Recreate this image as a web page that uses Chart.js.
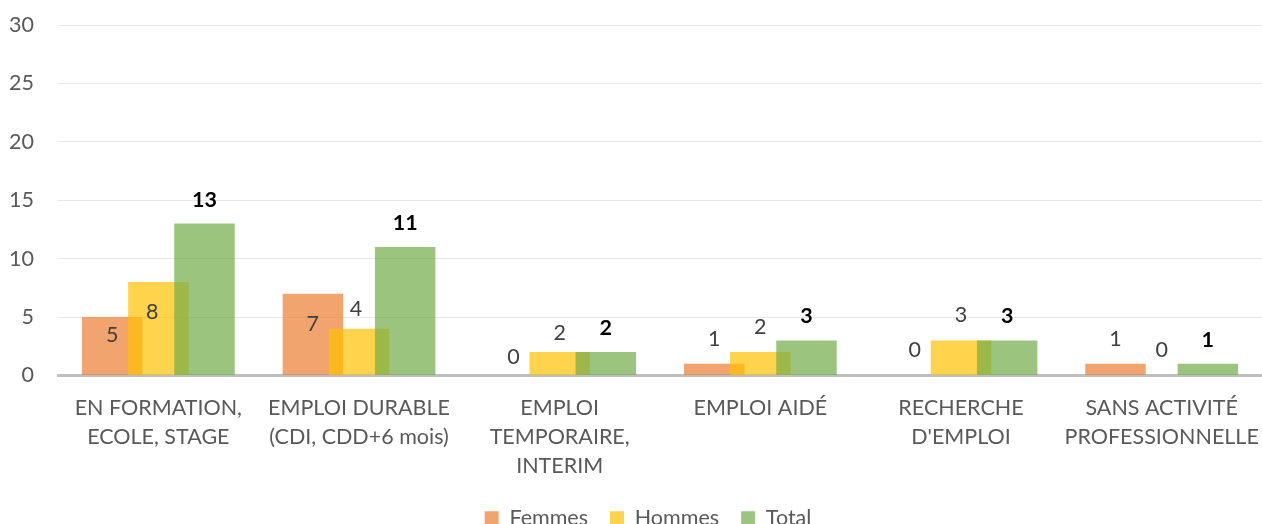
<!DOCTYPE html>
<html>
<head>
<meta charset="utf-8">
<script src="https://cdn.jsdelivr.net/npm/chart.js@4/dist/chart.umd.min.js"></script>
<style>
  html, body { margin: 0; padding: 0; background: #fff; overflow: hidden; }
  #wrap { position: relative; width: 1262px; height: 539px; }
</style>
</head>
<body>
<div id="wrap"><canvas id="c"></canvas></div>
<script>
const categories = [
  ["EN FORMATION,", "ECOLE, STAGE"],
  ["EMPLOI DURABLE", "(CDI, CDD+6 mois)"],
  ["EMPLOI", "TEMPORAIRE,", "INTERIM"],
  ["EMPLOI AIDÉ"],
  ["RECHERCHE", "D'EMPLOI"],
  ["SANS ACTIVITÉ", "PROFESSIONNELLE"]
];
const seriesNames = ["Femmes", "Hommes", "Total"];
const femmes = [5, 7, 0, 1, 0, 1];
const hommes = [8, 4, 2, 2, 3, 0];
const total  = [13, 11, 2, 3, 3, 1];
const yTicks = [0, 5, 10, 15, 20, 25, 30];

// label offsets (px, relative to bar top) – presentation only
const labelDy = [
  [18, 30, -18, -25, -25, -25],
  [30, -20, -19, -25, -25, -25],
  [-24, -24, -24, -24, -24, -24]
];
const labelDx = [
  [0, 0, 0, 0, 0, 0],
  [-6, -3, 0, 0, 0, 0],
  [0, 0, 0, 0, 0, 0]
];

const FONT = "Lato, 'Open Sans', sans-serif";
const FS = 21.5;
const colors = ["rgba(237,125,49,0.7)", "rgba(255,192,0,0.7)", "rgba(112,173,71,0.7)"];

const orderPlugin = {
  id: 'drawOrder',
  afterLayout(chart) {
    if (chart.legend) { chart.legend.left += 24; }
  },
  beforeDatasetsDraw(chart) {
    const metas = chart.getSortedVisibleDatasetMetas();
    const ctx = chart.ctx;
    ctx.save();
    for (const m of metas) m.controller.draw();
    ctx.restore();
    return false;
  }
};

const labelPlugin = {
  id: 'valueLabels',
  afterDraw(chart) {
    const ctx = chart.ctx;
    ctx.save();
    ctx.textAlign = 'center';
    ctx.textBaseline = 'middle';
    chart.data.datasets.forEach((ds, di) => {
      const meta = chart.getDatasetMeta(di);
      meta.data.forEach((bar, i) => {
        const v = ds.data[i];
        if (di === 2) {
          ctx.font = "bold " + FS + "px " + FONT;
          ctx.fillStyle = "#000000";
        } else {
          ctx.font = FS + "px " + FONT;
          ctx.fillStyle = "#404040";
        }
        ctx.fillText(String(v), bar.x + labelDx[di][i], bar.y + labelDy[di][i]);
      });
    });
    ctx.restore();
  }
};

new Chart(document.getElementById('c'), {
  type: 'bar',
  data: {
    labels: categories,
    datasets: [
      { label: seriesNames[0], data: femmes, backgroundColor: colors[0] },
      { label: seriesNames[1], data: hommes, backgroundColor: colors[1] },
      { label: seriesNames[2], data: total, backgroundColor: colors[2] }
    ]
  },
  options: {
    responsive: true,
    maintainAspectRatio: false,
    animation: false,
    datasets: { bar: { barPercentage: 1.31, categoryPercentage: 0.69 } },
    layout: { padding: { left: 10, right: 0, top: 25, bottom: 0 } },
    plugins: {
      tooltip: { enabled: false },
      legend: {
        position: 'bottom',
        labels: {
          font: { family: FONT, size: FS },
          color: '#595959',
          boxWidth: 14,
          boxHeight: 14,
          padding: 22
        }
      }
    },
    scales: {
      x: {
        grid: { display: false, drawTicks: false },
        border: { display: true, color: '#BFBFBF', width: 3 },
        afterFit(s) { s.paddingLeft = 0; s.paddingRight = 0; s.height -= 13; },
        ticks: {
          color: '#595959',
          font: { family: FONT, size: FS, lineHeight: 1.35 },
          padding: 18,
          maxRotation: 0,
          autoSkip: false
        }
      },
      y: {
        min: 0,
        max: 30,
        afterBuildTicks(axis) { axis.ticks = yTicks.map(v => ({ value: v })); },
        afterFit(s) { s.paddingTop = 0; s.paddingBottom = 0; s.width = 48; },
        grid: { color: '#E8E8E8', lineWidth: 1, drawTicks: false },
        border: { display: false },
        ticks: {
          color: '#595959',
          font: { family: FONT, size: FS },
          padding: 24
        }
      }
    }
  },
  plugins: [orderPlugin, labelPlugin]
});
</script>
</body>
</html>
